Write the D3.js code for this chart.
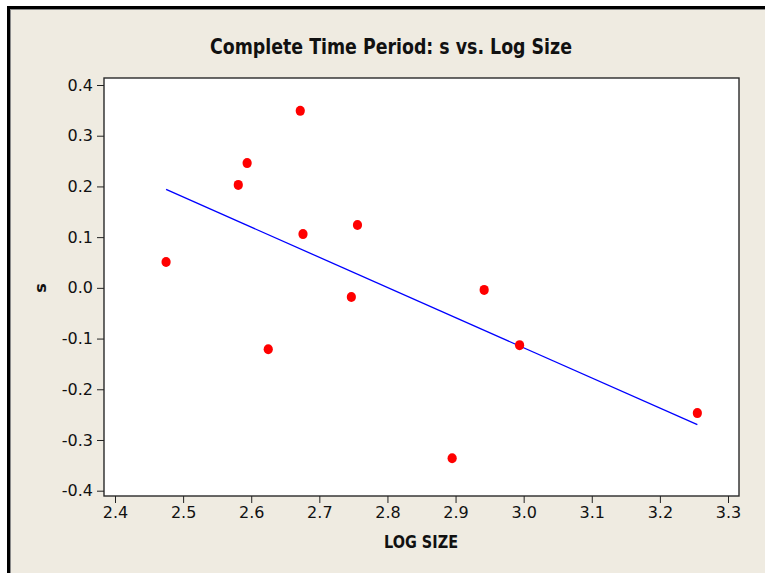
<!DOCTYPE html>
<html>
<head>
<meta charset="utf-8">
<script src="https://cdn.jsdelivr.net/npm/d3@7"></script>
<style>
  html, body { margin: 0; padding: 0; background: #ffffff; }
  svg { display: block; }
</style>
</head>
<body>
<script>
// ---- data ----
const logSize = [2.475, 2.581, 2.594, 2.672, 2.676, 2.625, 2.756, 2.747, 2.895, 2.942, 2.994, 3.255];
const sValues = [0.051, 0.203, 0.246, 0.349, 0.106, -0.121, 0.124, -0.018, -0.336, -0.004, -0.113, -0.247];
const xTicks = [2.4, 2.5, 2.6, 2.7, 2.8, 2.9, 3.0, 3.1, 3.2, 3.3];
const yTicks = [0.4, 0.3, 0.2, 0.1, 0.0, -0.1, -0.2, -0.3, -0.4];
const titleText = "Complete Time Period: s vs. Log Size";
const xLabel = "LOG SIZE";
const yLabel = "s";

// ---- layout ----
const W = 765, H = 573;
const box = { left: 104, right: 739, top: 78, bottom: 496 };

const svg = d3.select("body").append("svg").attr("width", W).attr("height", H);

// outer frame
svg.append("rect").attr("x", 10).attr("y", 9).attr("width", W - 10).attr("height", H - 9).attr("fill", "#EFEBE1");
svg.append("rect").attr("x", 7).attr("y", 6).attr("width", W - 7).attr("height", 3).attr("fill", "#000");
svg.append("rect").attr("x", 7).attr("y", 6).attr("width", 3).attr("height", H - 6).attr("fill", "#000");
svg.append("line").attr("x1", 10.5).attr("x2", 10.5).attr("y1", 9).attr("y2", H).attr("stroke", "#8a8a8a").attr("stroke-width", 1);
svg.append("line").attr("x1", 10).attr("x2", W).attr("y1", 9.5).attr("y2", 9.5).attr("stroke", "#8a8a8a").attr("stroke-width", 1);

// scales
const x = d3.scaleLinear().domain([2.4, 3.3]).range([115, 728]);
const y = d3.scaleLinear().domain([-0.4, 0.4]).range([490.7, 85]);

// plot area
svg.append("rect")
  .attr("x", box.left).attr("y", box.top)
  .attr("width", box.right - box.left).attr("height", box.bottom - box.top)
  .attr("fill", "#ffffff").attr("stroke", "#2a2a2a").attr("stroke-width", 1.4);

const fmt = d => d.toFixed(1);
const tickFont = "'DejaVu Sans', Verdana, sans-serif";

const yAxis = svg.append("g").attr("transform", `translate(${box.left},0)`)
  .call(d3.axisLeft(y).tickValues(yTicks).tickFormat(fmt).tickSize(7).tickSizeOuter(0).tickPadding(4));
yAxis.select(".domain").remove();
yAxis.selectAll(".tick line").attr("stroke", "#222");
yAxis.selectAll(".tick text").attr("font-family", tickFont).attr("font-size", 16).attr("fill", "#111");

const xAxis = svg.append("g").attr("transform", `translate(0,${box.bottom})`)
  .call(d3.axisBottom(x).tickValues(xTicks).tickFormat(fmt).tickSize(7).tickSizeOuter(0).tickPadding(4));
xAxis.select(".domain").remove();
xAxis.selectAll(".tick line").attr("stroke", "#222");
xAxis.selectAll(".tick text").attr("font-family", tickFont).attr("font-size", 16).attr("fill", "#111");

// regression line (least squares from the data)
const n = logSize.length;
const mx = d3.mean(logSize), my = d3.mean(sValues);
let sxy = 0, sxx = 0;
for (let i = 0; i < n; i++) { sxy += (logSize[i] - mx) * (sValues[i] - my); sxx += (logSize[i] - mx) ** 2; }
const slope = sxy / sxx, intercept = my - slope * mx;
const [xmin, xmax] = d3.extent(logSize);
svg.append("line")
  .attr("x1", x(xmin)).attr("y1", y(intercept + slope * xmin))
  .attr("x2", x(xmax)).attr("y2", y(intercept + slope * xmax))
  .attr("stroke", "#0000FF").attr("stroke-width", 1.3);

// points
svg.append("g").selectAll("ellipse").data(logSize).join("ellipse")
  .attr("cx", (d, i) => x(d)).attr("cy", (d, i) => y(sValues[i]))
  .attr("rx", 4.6).attr("ry", 5)
  .attr("fill", "#FF0000");

// title
svg.append("text")
  .attr("x", 391).attr("y", 54)
  .attr("text-anchor", "middle")
  .attr("font-family", "'DejaVu Sans', sans-serif").attr("font-weight", "bold")
  .attr("font-size", 21).attr("textLength", 362).attr("lengthAdjust", "spacingAndGlyphs")
  .attr("fill", "#111")
  .text(titleText);

// axis labels
svg.append("text")
  .attr("x", 421).attr("y", 548)
  .attr("text-anchor", "middle")
  .attr("font-family", "'DejaVu Sans', sans-serif").attr("font-weight", "bold")
  .attr("font-size", 17).attr("textLength", 74).attr("lengthAdjust", "spacingAndGlyphs")
  .attr("fill", "#111")
  .text(xLabel);

svg.append("text")
  .attr("transform", "translate(46,288) rotate(-90)")
  .attr("text-anchor", "middle")
  .attr("font-family", "'DejaVu Sans', sans-serif").attr("font-weight", "bold")
  .attr("font-size", 16)
  .attr("fill", "#111")
  .text(yLabel);
</script>
</body>
</html>
